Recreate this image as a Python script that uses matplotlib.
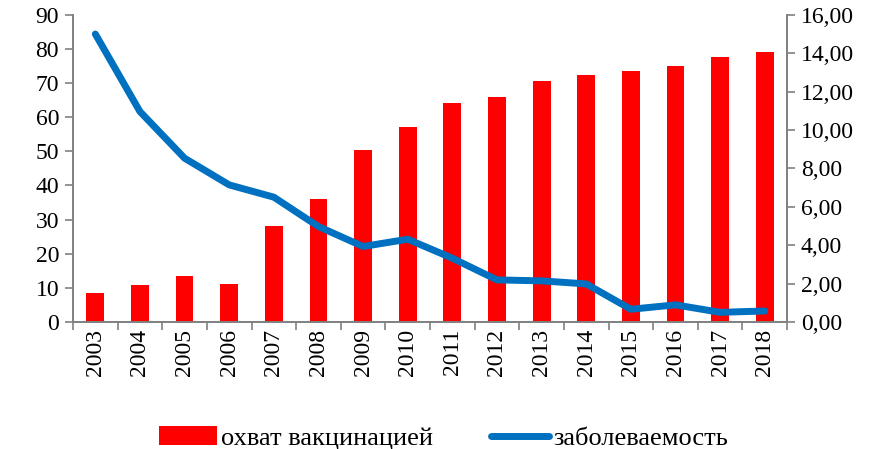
import numpy as np
import matplotlib; matplotlib.use('Agg')
import matplotlib.pyplot as plt
from matplotlib.ticker import FuncFormatter, MultipleLocator

plt.rcParams['font.family'] = ['Liberation Serif', 'DejaVu Serif']

# --- Donnees ---
years = [2003, 2004, 2005, 2006, 2007, 2008, 2009, 2010,
         2011, 2012, 2013, 2014, 2015, 2016, 2017, 2018]
coverage = [8.4, 10.8, 13.5, 11.1, 28.2, 35.9, 50.4, 57.2,
            64.1, 65.9, 70.6, 72.3, 73.5, 75.0, 77.7, 79.2]
incidence = [15.0, 10.96, 8.53, 7.14, 6.5, 4.97, 3.93, 4.31,
             3.32, 2.19, 2.14, 1.98, 0.66, 0.89, 0.50, 0.57]

lbl_bar = 'охват вакцинацией'
lbl_line = 'заболеваемость'

GRAY = '#808080'
x = np.arange(len(years))

fig = plt.figure(figsize=(8.87, 4.49), dpi=100)
ax = fig.add_axes([0.0823, 0.283, 0.805, 0.684])
ax2 = ax.twinx()

bars = ax.bar(x, coverage, width=0.4, color='#ff0000', zorder=2, label=lbl_bar)
line, = ax2.plot(x, incidence, color='#0070c0', lw=5, zorder=3,
                 solid_capstyle='round', solid_joinstyle='round', label=lbl_line)

ax.set_xlim(-0.5, len(years) - 0.5)
ax.set_ylim(0, 90)
ax.yaxis.set_major_locator(MultipleLocator(10))
ax2.set_ylim(0, 16)
ax2.yaxis.set_major_locator(MultipleLocator(2))
ax2.yaxis.set_major_formatter(FuncFormatter(lambda v, p: f'{v:.2f}'.replace('.', ',')))

# Graduations x aux limites des categories
ax.set_xticks(x)
ax.set_xticklabels([str(y) for y in years], rotation=90, fontsize=17)
ax.set_xticks(np.arange(-0.5, len(years)), minor=True)
ax.tick_params(axis='x', which='major', length=0, pad=5)
ax.tick_params(axis='x', which='minor', length=6, color=GRAY, width=1.2, direction='out')
ax.tick_params(axis='y', labelsize=17, length=6, color=GRAY, width=1.2, pad=4)
ax2.tick_params(axis='y', labelsize=17, length=6, color=GRAY, width=1.2, pad=4)

for a in (ax, ax2):
    a.spines['top'].set_visible(False)
    for s in ('left', 'right', 'bottom'):
        a.spines[s].set_color(GRAY)
        a.spines[s].set_linewidth(1.2)

fig.legend([bars, line], [lbl_bar, lbl_line], loc='lower center',
           bbox_to_anchor=(0.5, -0.055), ncol=2, frameon=False, fontsize=19,
           handlelength=2.2, handletextpad=0.15, columnspacing=2.2)

fig.savefig('out.png', dpi=100)
